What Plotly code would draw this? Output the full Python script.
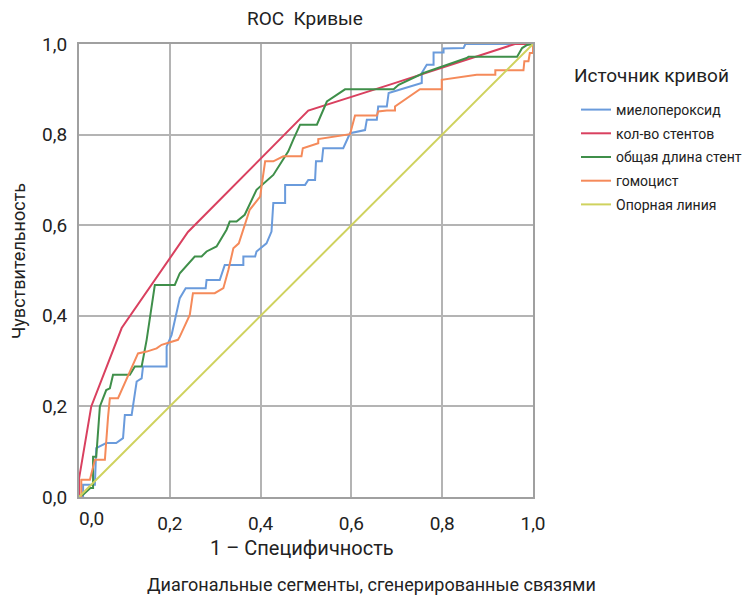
import plotly.graph_objects as go

# ROC curve points (1 - specificity, sensitivity)
mpo_fpr = [0, 0.009, 0.009, 0.035, 0.038, 0.06, 0.082, 0.097, 0.101, 0.116, 0.127, 0.138, 0.141, 0.193, 0.193,
           0.204, 0.222, 0.235, 0.279, 0.281, 0.31, 0.321, 0.362, 0.362, 0.388, 0.391, 0.413, 0.424, 0.428, 0.454,
           0.454, 0.498, 0.505, 0.52, 0.522, 0.535, 0.538, 0.582, 0.597, 0.63, 0.634, 0.656, 0.659, 0.678, 0.682,
           0.693, 0.755, 0.755, 0.766, 0.781, 0.781, 0.803, 0.803, 0.847, 0.851, 1.0]
mpo_tpr = [0, 0, 0.027, 0.027, 0.108, 0.119, 0.119, 0.13, 0.181, 0.181, 0.255, 0.262, 0.288, 0.288, 0.332,
           0.358, 0.439, 0.461, 0.461, 0.479, 0.479, 0.512, 0.512, 0.531, 0.531, 0.542, 0.56, 0.586, 0.649, 0.649,
           0.689, 0.689, 0.7, 0.7, 0.741, 0.741, 0.77, 0.77, 0.803, 0.81, 0.833, 0.833, 0.862, 0.862, 0.892,
           0.895, 0.914, 0.936, 0.954, 0.954, 0.981, 0.981, 0.99, 0.991, 1.0, 1.0]

stent_fpr = [0, 0, 0.027, 0.094, 0.24, 0.505, 0.69, 0.96, 1.0]
stent_tpr = [0, 0.04, 0.2, 0.373, 0.585, 0.853, 0.912, 1.0, 1.0]

length_fpr = [0, 0.009, 0.025, 0.031, 0.031, 0.038, 0.046, 0.06, 0.068, 0.075, 0.112, 0.123, 0.138, 0.149,
              0.167, 0.211, 0.222, 0.255, 0.27, 0.281, 0.303, 0.325, 0.332, 0.347, 0.365, 0.391, 0.428, 0.461,
              0.472, 0.487, 0.524, 0.546, 0.586, 0.693, 0.704, 0.759, 0.854, 0.858, 0.965, 0.976, 0.987, 1.0]
length_tpr = [0, 0.005, 0.02, 0.02, 0.089, 0.089, 0.2, 0.236, 0.24, 0.27, 0.27, 0.288, 0.288, 0.347,
              0.468, 0.468, 0.494, 0.531, 0.531, 0.542, 0.553, 0.59, 0.608, 0.608, 0.623, 0.678, 0.711, 0.763,
              0.789, 0.822, 0.822, 0.873, 0.9, 0.9, 0.91, 0.936, 0.969, 0.972, 0.972, 0.991, 0.998, 1.0]

homo_fpr = [0, 0.005, 0.005, 0.024, 0.035, 0.057, 0.064, 0.068, 0.086, 0.094, 0.104, 0.119, 0.13, 0.149,
            0.171, 0.182, 0.196, 0.218, 0.222, 0.244, 0.251, 0.299, 0.318, 0.329, 0.34, 0.352, 0.376, 0.399,
            0.402, 0.41, 0.428, 0.45, 0.49, 0.493, 0.527, 0.527, 0.597, 0.608, 0.656, 0.659, 0.678, 0.696,
            0.696, 0.751, 0.799, 0.799, 0.876, 0.917, 0.917, 0.979, 0.981, 0.99, 0.993, 1.0, 1.0]
homo_tpr = [0, 0, 0.038, 0.038, 0.082, 0.082, 0.177, 0.218, 0.218, 0.236, 0.258, 0.295, 0.317, 0.321,
            0.328, 0.336, 0.34, 0.347, 0.354, 0.402, 0.45, 0.45, 0.461, 0.501, 0.549, 0.56, 0.634, 0.663,
            0.685, 0.741, 0.741, 0.752, 0.752, 0.77, 0.781, 0.79, 0.801, 0.842, 0.842, 0.851, 0.853, 0.853,
            0.862, 0.9, 0.9, 0.921, 0.932, 0.932, 0.942, 0.942, 0.962, 0.962, 0.98, 0.98, 1.0]

ref_fpr = [0, 1]
ref_tpr = [0, 1]

series_names = ["миелопероксид", "кол-во стентов", "общая длина стент", "гомоцист", "Опорная линия"]
series_colors = ["#6a9bdc", "#d9405f", "#3f8f4a", "#f58a5a", "#cfd25e"]

tick_vals = [0, 0.2, 0.4, 0.6, 0.8, 1.0]
tick_text = ["0,0", "0,2", "0,4", "0,6", "0,8", "1,0"]

FONT = "Roboto, sans-serif"
TXT = "#222222"

fig = go.Figure()
data = [(mpo_fpr, mpo_tpr), (stent_fpr, stent_tpr), (length_fpr, length_tpr), (homo_fpr, homo_tpr), (ref_fpr, ref_tpr)]
for i, ((xs, ys), name, col) in enumerate(zip(data, series_names, series_colors)):
    fig.add_trace(go.Scatter(x=xs, y=ys, mode="lines", name=name, legendgroup=f"g{i}",
                             line=dict(color=col, width=2)))

fig.update_layout(
    width=755, height=598,
    margin=dict(l=79, r=222, t=44, b=101, autoexpand=False),
    paper_bgcolor="white", plot_bgcolor="white",
    font=dict(family=FONT, color=TXT, size=16),
    title=dict(text="ROC  Кривые", x=305 / 755, xanchor="center", xref="container",
               y=1 - 18 / 598, yanchor="middle", yref="container",
               font=dict(size=19, family=FONT, color=TXT)),
    legend=dict(x=(576 - 79) / 454, y=1 - (94 - 44) / 453, xanchor="left", yanchor="top",
                font=dict(size=14, family=FONT, color=TXT), tracegroupgap=2.5, itemwidth=30,
                bgcolor="rgba(0,0,0,0)"),
    showlegend=True,
)
fig.update_xaxes(range=[0, 1], tickvals=tick_vals[1:], ticktext=tick_text[1:], showgrid=True,
                 gridcolor="#b4b4b4", gridwidth=2, showline=True, linecolor="#a0a0a0", linewidth=2, mirror=True,
                 zeroline=False, ticks="", tickfont=dict(size=19, color=TXT), ticklabelstandoff=8,
                 automargin=False)
fig.update_yaxes(range=[0, 1], tickvals=tick_vals, ticktext=tick_text, showgrid=True,
                 gridcolor="#b4b4b4", gridwidth=2, showline=True, linecolor="#a0a0a0", linewidth=2, mirror=True,
                 zeroline=False, ticks="", tickfont=dict(size=19, color=TXT), ticklabelstandoff=6,
                 automargin=False)

# "0,0" label of the x axis sits a little to the right in the original
fig.add_annotation(x=0.028, y=0, xref="x", yref="paper", yshift=-21, text=tick_text[0], showarrow=False,
                   yanchor="middle", xanchor="center", font=dict(size=19, family=FONT, color=TXT))
# axis titles
fig.add_annotation(x=(302 - 79) / 454, y=-(548 - 497) / 453, xref="paper", yref="paper",
                   text="1 – Специфичность", showarrow=False, xanchor="center", yanchor="middle",
                   font=dict(size=20, family=FONT, color=TXT))
fig.add_annotation(x=(18 - 79) / 454, y=1 - (261 - 44) / 453, xref="paper", yref="paper",
                   text="Чувствительность", showarrow=False, textangle=-90, xanchor="center", yanchor="middle",
                   font=dict(size=18, family=FONT, color=TXT))
# legend title
fig.add_annotation(x=(572 - 79) / 454, y=1 - (75 - 44) / 453, xref="paper", yref="paper",
                   text="Источник кривой", showarrow=False, xanchor="left", yanchor="middle",
                   font=dict(size=19, family=FONT, color=TXT))
# footnote
fig.add_annotation(x=(371 - 79) / 454, y=-(584 - 497) / 453, xref="paper", yref="paper", yanchor="middle",
                   text="Диагональные сегменты, сгенерированные связями", showarrow=False,
                   font=dict(size=18, family=FONT, color=TXT), xanchor="center")

fig.write_html("out.html", config={"displayModeBar": False},
               post_script="document.body.style.margin='0px';")
